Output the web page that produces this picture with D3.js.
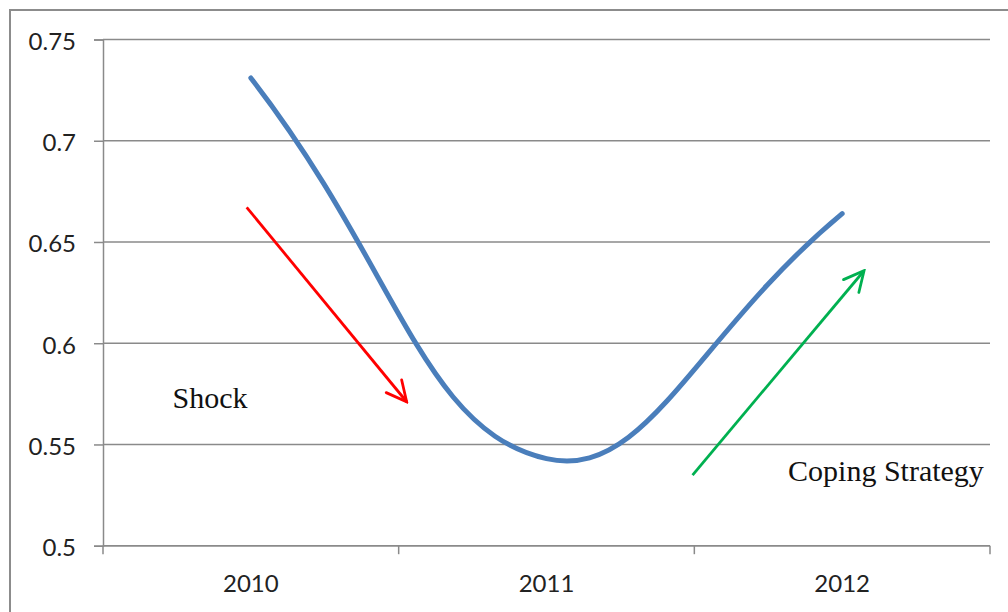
<!DOCTYPE html>
<html>
<head>
<meta charset="utf-8">
<script src="https://cdn.jsdelivr.net/npm/d3@7"></script>
<style>
  html, body { margin: 0; padding: 0; background: #fff; }
  svg { display: block; }
</style>
</head>
<body>
<svg id="chart" width="1008" height="612"></svg>
<script>
// Yearly index values
const years = [2010, 2011, 2012];
const values = [0.731, 0.543, 0.664];
const yTicks = [0.5, 0.55, 0.6, 0.65, 0.7, 0.75];
const yTickLabels = ["0.5", "0.55", "0.6", "0.65", "0.7", "0.75"];

// Annotation arrows, given in (year, value) space
const arrowNames = ["shock", "coping"];
const arrowColors = ["#ff0000", "#00b050"];
const arrowFrom = [[2009.986, 0.6671], [2011.494, 0.5349]];
const arrowTo = [[2010.527, 0.5711], [2012.074, 0.6358]];

// Annotation labels
const noteTexts = ["Shock", "Coping Strategy"];
const notePos = [[2009.735, 0.5682], [2011.817, 0.5320]];

const svg = d3.select("#chart");
const plot = { left: 103, right: 990, top: 39.5, bottom: 545.7 };
const axisFont = "Lato, 'Open Sans', sans-serif";

// Outer chart frame (extends past the right and bottom edge)
svg.append("rect")
  .attr("x", 10).attr("y", 10)
  .attr("width", 1100).attr("height", 700)
  .attr("fill", "#fff")
  .attr("stroke", "#8c8c8c").attr("stroke-width", 2);

const x = d3.scaleLinear()
  .domain([years[0] - 0.5, years[years.length - 1] + 0.5])
  .range([plot.left, plot.right]);
const y = d3.scaleLinear()
  .domain([0.5, 0.75])
  .range([plot.bottom, plot.top]);

const gridColor = "#8a8a8a";

// Horizontal gridlines
svg.append("g")
  .selectAll("line")
  .data(yTicks)
  .join("line")
  .attr("x1", plot.left).attr("x2", plot.right)
  .attr("y1", d => y(d)).attr("y2", d => y(d))
  .attr("stroke", gridColor).attr("stroke-width", 1.5);

// Value axis
const yAxis = svg.append("g")
  .attr("transform", `translate(${plot.left},0)`)
  .call(d3.axisLeft(y).tickValues(yTicks)
    .tickFormat((d, i) => yTickLabels[i])
    .tickSize(9).tickPadding(18));
yAxis.select(".domain").attr("stroke", gridColor).attr("stroke-width", 1.5);
yAxis.selectAll(".tick line").attr("stroke", gridColor).attr("stroke-width", 1.5);
yAxis.selectAll(".tick text")
  .attr("fill", "#222")
  .attr("dy", "10px")
  .style("font-family", axisFont)
  .style("font-size", "24px");

// Category axis: ticks at boundaries between years, labels centred on years
const bounds = d3.range(years.length + 1).map(i => years[0] - 0.5 + i);
const xAxis = svg.append("g")
  .attr("transform", `translate(0,${plot.bottom})`);
xAxis.append("line")
  .attr("x1", plot.left).attr("x2", plot.right)
  .attr("stroke", gridColor).attr("stroke-width", 1.5);
xAxis.selectAll("line.tick")
  .data(bounds)
  .join("line")
  .attr("class", "tick")
  .attr("x1", d => x(d)).attr("x2", d => x(d))
  .attr("y1", 0).attr("y2", 8.5)
  .attr("stroke", gridColor).attr("stroke-width", 1.5);
xAxis.selectAll("text")
  .data(years)
  .join("text")
  .attr("x", d => x(d))
  .attr("y", 46)
  .attr("text-anchor", "middle")
  .attr("fill", "#222")
  .style("font-family", axisFont)
  .style("font-size", "24px")
  .text(d => d);

// Smoothed series line: cubic Bezier segments whose interior handles follow
// the neighbour-to-neighbour tangent, split in proportion to segment lengths,
// and whose end handles run along the first/last chord.
function smoothPath(p, k, endFrac) {
  const n = p.length;
  const path = d3.path();
  const dist = (a, b) => Math.hypot(b[0] - a[0], b[1] - a[1]);
  const hin = [], hout = [];
  for (let i = 1; i < n - 1; i++) {
    const t = [p[i + 1][0] - p[i - 1][0], p[i + 1][1] - p[i - 1][1]];
    const d0 = dist(p[i - 1], p[i]), d1 = dist(p[i], p[i + 1]), s = d0 + d1;
    hin[i] = [p[i][0] - t[0] * k * d0 / s, p[i][1] - t[1] * k * d0 / s];
    hout[i] = [p[i][0] + t[0] * k * d1 / s, p[i][1] + t[1] * k * d1 / s];
  }
  hout[0] = [p[0][0] + (p[1][0] - p[0][0]) * endFrac,
             p[0][1] + (p[1][1] - p[0][1]) * endFrac];
  hin[n - 1] = [p[n - 1][0] - (p[n - 1][0] - p[n - 2][0]) * endFrac,
                p[n - 1][1] - (p[n - 1][1] - p[n - 2][1]) * endFrac];
  path.moveTo(p[0][0], p[0][1]);
  for (let i = 0; i < n - 1; i++) {
    path.bezierCurveTo(hout[i][0], hout[i][1], hin[i + 1][0], hin[i + 1][1],
                       p[i + 1][0], p[i + 1][1]);
  }
  return path.toString();
}

const seriesPts = values.map((v, i) => [x(years[i]), y(v)]);
svg.append("path")
  .attr("d", smoothPath(seriesPts, 0.38, 0.5))
  .attr("fill", "none")
  .attr("stroke", "#4a7ebb")
  .attr("stroke-width", 5)
  .attr("stroke-linecap", "round")
  .attr("stroke-linejoin", "round");

// Arrow markers (open chevron heads)
const defs = svg.append("defs");
arrowNames.forEach((name, i) => {
  defs.append("marker")
    .attr("id", "head-" + name)
    .attr("markerUnits", "userSpaceOnUse")
    .attr("viewBox", "-24 -12 26 24")
    .attr("refX", 0).attr("refY", 0)
    .attr("markerWidth", 26).attr("markerHeight", 24)
    .attr("orient", "auto")
    .append("path")
    .attr("d", "M-20,-10 L0,0 L-20,10")
    .attr("fill", "none")
    .attr("stroke", arrowColors[i])
    .attr("stroke-width", 2.8)
    .attr("stroke-linecap", "round")
    .attr("stroke-linejoin", "miter");
});

svg.append("g")
  .selectAll("line")
  .data(arrowNames)
  .join("line")
  .attr("x1", (d, i) => x(arrowFrom[i][0]))
  .attr("y1", (d, i) => y(arrowFrom[i][1]))
  .attr("x2", (d, i) => x(arrowTo[i][0]))
  .attr("y2", (d, i) => y(arrowTo[i][1]))
  .attr("stroke", (d, i) => arrowColors[i])
  .attr("stroke-width", 2.8)
  .attr("marker-end", d => `url(#head-${d})`);

// Annotation labels
svg.append("g")
  .selectAll("text")
  .data(noteTexts)
  .join("text")
  .attr("x", (d, i) => x(notePos[i][0]))
  .attr("y", (d, i) => y(notePos[i][1]))
  .attr("fill", "#111")
  .style("font-family", "'Liberation Serif', 'DejaVu Serif', serif")
  .style("font-size", "30px")
  .text(d => d);
</script>
</body>
</html>
